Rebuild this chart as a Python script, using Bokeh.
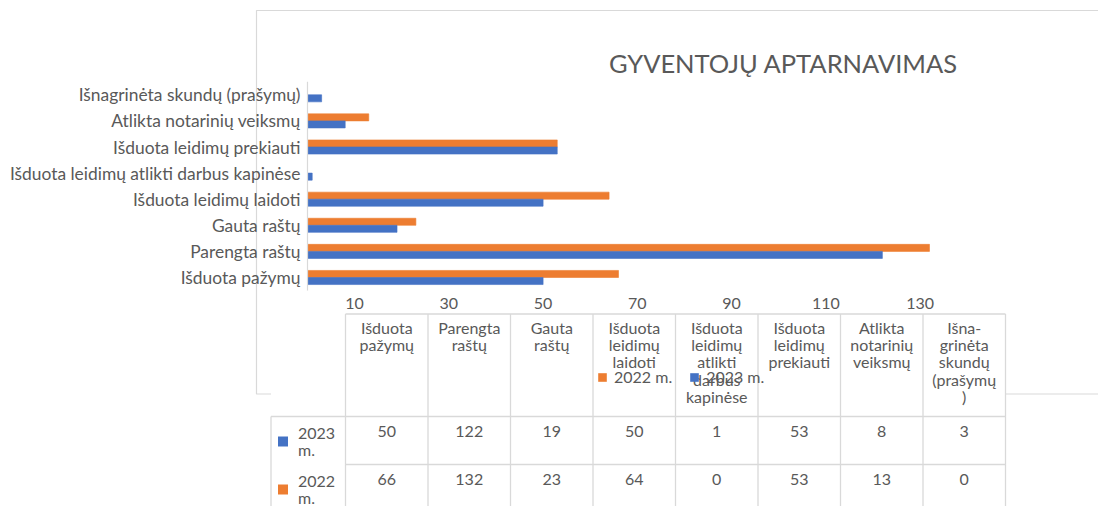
from bokeh.plotting import figure
from bokeh.models import Range1d, ColumnDataSource, Legend, LegendItem
from bokeh.transform import dodge
from bokeh.core.properties import value
from bokeh.embed import file_html
from bokeh.resources import INLINE

# ---------------- data ----------------
categories = [
    "Išduota pažymų",
    "Parengta raštų",
    "Gauta raštų",
    "Išduota leidimų laidoti",
    "Išduota leidimų atlikti darbus kapinėse",
    "Išduota leidimų prekiauti",
    "Atlikta notarinių veiksmų",
    "Išnagrinėta skundų (prašymų)",
]
header_labels = [
    "Išduota\npažymų",
    "Parengta\nraštų",
    "Gauta\nraštų",
    "Išduota\nleidimų\nlaidoti",
    "Išduota\nleidimų\natlikti\ndarbus\nkapinėse",
    "Išduota\nleidimų\nprekiauti",
    "Atlikta\nnotarinių\nveiksmų",
    "Išna-\ngrinėta\nskundų\n(prašymų\n)",
]
series_names = ["2023 m.", "2022 m."]
values_2023 = [50, 122, 19, 50, 1, 53, 8, 3]
values_2022 = [66, 132, 23, 64, 0, 53, 13, 0]
x_ticks = [10, 30, 50, 70, 90, 110, 130]
title_text = "GYVENTOJŲ APTARNAVIMAS"

# ---------------- style / layout ----------------
W, H = 1098, 506
FONT_NAME = "Lato"
FONT = value(FONT_NAME)
TXT = "#595959"
LINE = "#D9D9D9"
BLUE, ORANGE = "#4472C4", "#ED7D31"
FS_CAT = "17.4px"
FS = "16px"
LH = 0.92

PX_PER_UNIT = 4.712   # bar value scale
ZERO_X = 307          # x of value 0
BAND = 26.1           # category spacing in px
BAND0_Y = 277         # y of first category centre

COL_W = 82.5          # table column width
COL0_X = 345          # x of first table column
ROW_H = 48            # table row height
ROW0_Y = 416          # y of first data row top
HEADER_TOP = -(ROW0_Y - 313.5) / ROW_H
LEGCOL_LEFT = -(COL0_X - 270.5) / COL_W

n = len(categories)
idx = list(range(n))

p = figure(
    width=W, height=H, output_backend="svg", toolbar_location=None,
    x_axis_location=None, y_axis_location=None, min_border=0,
    x_range=Range1d(-ZERO_X / PX_PER_UNIT, (W - ZERO_X) / PX_PER_UNIT),
    y_range=Range1d(-(H - BAND0_Y) / BAND, BAND0_Y / BAND),
)
p.outline_line_color = None
p.background_fill_color = "white"
p.border_fill_color = "white"
p.grid.visible = False

p.extra_x_ranges = {
    "px": Range1d(0, W),
    "tx": Range1d(-COL0_X / COL_W, (W - COL0_X) / COL_W),
}
p.extra_y_ranges = {
    "py": Range1d(H, 0),
    "ty": Range1d((H - ROW0_Y) / ROW_H, -ROW0_Y / ROW_H),
}

# chart area border
p.quad(left=[256], right=[W + 20], top=[10], bottom=[393.5],
       x_range_name="px", y_range_name="py",
       fill_color=None, line_color=LINE, line_width=1.2)

# title
p.text(x=[783], y=[62], text=[title_text], x_range_name="px", y_range_name="py",
       text_font=FONT, text_font_size="25.5px", text_color=TXT,
       text_align="center", text_baseline="middle")

# ---------------- bars ----------------
src = ColumnDataSource(dict(y=idx, v23=values_2023, v22=values_2022, cat=categories))
BH = 0.27
r22 = p.hbar(y=dodge("y", BH / 2), left=0, right="v22", height=BH, source=src,
             fill_color=ORANGE, line_color=ORANGE, line_width=0.6)
r23 = p.hbar(y=dodge("y", -BH / 2), left=0, right="v23", height=BH, source=src,
             fill_color=BLUE, line_color=BLUE, line_width=0.6)

# category axis line and labels
p.segment(x0=[0], y0=[-0.5], x1=[0], y1=[n - 0.5], line_color=LINE, line_width=1.2)
p.text(x=0, y="y", text="cat", source=src, x_offset=-7,
       text_font=FONT, text_font_size=FS_CAT, text_color=TXT,
       text_align="right", text_baseline="middle")

# value axis tick labels
p.text(x=x_ticks, y=[-0.5] * len(x_ticks), text=[str(t) for t in x_ticks],
       y_offset=13, text_font=FONT, text_font_size=FS, text_color=TXT,
       text_align="center", text_baseline="middle")

# ---------------- data table ----------------
rows = [values_2023, values_2022]
row_colors = [BLUE, ORANGE]
n_rows = len(rows)

p.quad(left=[LEGCOL_LEFT], right=[n], top=[HEADER_TOP], bottom=[n_rows + 1],
       x_range_name="tx", y_range_name="ty", fill_color="white", line_color=None)

vx0, vy0, vx1, vy1 = [], [], [], []
for j in range(n + 1):
    vx0.append(j); vy0.append(HEADER_TOP); vx1.append(j); vy1.append(n_rows + 1)
vx0.append(LEGCOL_LEFT); vy0.append(0); vx1.append(LEGCOL_LEFT); vy1.append(n_rows + 1)
vx0.append(0); vy0.append(HEADER_TOP); vx1.append(n); vy1.append(HEADER_TOP)
vx0.append(LEGCOL_LEFT); vy0.append(0); vx1.append(n); vy1.append(0)
for r in range(1, n_rows + 1):
    vx0.append(0); vy0.append(r); vx1.append(n); vy1.append(r)
p.segment(x0=vx0, y0=vy0, x1=vx1, y1=vy1, x_range_name="tx", y_range_name="ty",
          line_color=LINE, line_width=1.3)

# header labels
p.text(x=[j + 0.5 for j in idx], y=[HEADER_TOP] * n, text=header_labels,
       x_range_name="tx", y_range_name="ty", y_offset=3.5,
       text_font=FONT, text_font_size=FS, text_color=TXT, text_line_height=LH,
       text_align="center", text_baseline="top")

# values and row legends
for r, vals in enumerate(rows):
    p.text(x=[j + 0.5 for j in idx], y=[r] * n, text=[str(v) for v in vals],
           x_range_name="tx", y_range_name="ty", y_offset=15,
           text_font=FONT, text_font_size=FS, text_color=TXT,
           text_align="center", text_baseline="middle")
    p.text(x=[LEGCOL_LEFT], y=[r], text=[series_names[r].replace(" ", "\n")],
           x_range_name="tx", y_range_name="ty", x_offset=27, y_offset=6,
           text_font=FONT, text_font_size=FS, text_color=TXT, text_line_height=LH,
           text_align="left", text_baseline="top")
    p.scatter(x=[LEGCOL_LEFT + 12 / COL_W], y=[r + 25 / ROW_H], marker="square", size=10,
              fill_color=row_colors[r], line_color=None,
              x_range_name="tx", y_range_name="ty")

# legend
legend = Legend(
    items=[LegendItem(label=series_names[1], renderers=[r22]),
           LegendItem(label=series_names[0], renderers=[r23])],
    orientation="horizontal", location=(597, 120),
    glyph_width=10, glyph_height=10, label_height=10, label_standoff=7, spacing=17,
    padding=0, margin=0, border_line_color=None, background_fill_alpha=0,
    label_text_font=FONT_NAME, label_text_font_size=FS, label_text_color=TXT,
)
p.add_layout(legend)

open("out.html", "w").write(file_html(p, INLINE))
